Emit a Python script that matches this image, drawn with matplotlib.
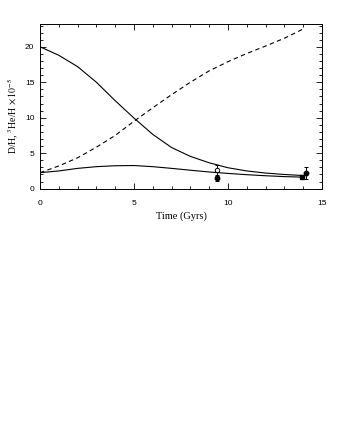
import matplotlib
matplotlib.use("Agg")
import matplotlib.pyplot as plt
from matplotlib.ticker import MultipleLocator

plt.rcParams["mathtext.fontset"] = "stix"

# Data (time in Gyr, abundances x 1e-5)
time = [0, 1, 2, 3, 4, 5, 6, 7, 8, 9, 10, 11, 12, 13, 14]
dh_model = [20.0, 18.8, 17.2, 15.0, 12.4, 9.95, 7.65, 5.8, 4.55, 3.65, 2.95,
            2.5, 2.2, 2.0, 1.85]
he3_model = [2.25, 3.2, 4.35, 5.85, 7.5, 9.5, 11.4, 13.25, 15.0, 16.6,
             17.9, 19.05, 20.1, 21.2, 22.5]
low_model = [2.25, 2.5, 2.86, 3.1, 3.23, 3.26, 3.1, 2.86, 2.6, 2.35, 2.15,
             1.97, 1.82, 1.7, 1.62]

# Observations
open_t, open_y, open_err = [9.4], [2.6], [0.7]
filled_t, filled_y, filled_err = [9.4, 14.17], [1.5, 2.2], [0.35, 0.8]
square_t, square_y = [13.95], [1.64]

fig = plt.figure(figsize=(3.45, 4.46), dpi=100)
ax = fig.add_axes([0.116, 0.577, 0.817, 0.369])

lw = 0.8
ax.plot(time, dh_model, color="black", lw=lw)
ax.plot(time, low_model, color="black", lw=lw)
ax.plot(time, he3_model, color="black", lw=lw, ls=(0, (4, 3)))

ax.errorbar(open_t, open_y, yerr=open_err, fmt="o", ms=3.2, mfc="white",
            mec="black", mew=0.7, ecolor="black", elinewidth=0.7,
            capsize=1.5, capthick=0.7)
ax.errorbar(filled_t, filled_y, yerr=filled_err, fmt="o", ms=3.2,
            color="black", elinewidth=0.7, capsize=1.5, capthick=0.7)
ax.plot(square_t, square_y, "s", color="black", ms=2.6)

ax.set_xlim(0, 15)
ax.set_ylim(0, 23.2)
ax.xaxis.set_major_locator(MultipleLocator(5))
ax.xaxis.set_minor_locator(MultipleLocator(1))
ax.yaxis.set_major_locator(MultipleLocator(5))
ax.yaxis.set_minor_locator(MultipleLocator(1))
ax.tick_params(which="both", direction="in", top=True, right=True,
               width=0.6, labelsize=6, colors="black")
ax.tick_params(which="major", length=4.3)
ax.tick_params(which="minor", length=2.4)
ax.tick_params(axis="x", pad=8)
ax.tick_params(axis="y", pad=4)
for lab in ax.get_xticklabels() + ax.get_yticklabels():
    lab.set_family("Liberation Sans")
for s in ax.spines.values():
    s.set_linewidth(0.7)

ax.set_xlabel("Time (Gyrs)", family="Liberation Serif", fontsize=7.5,
              labelpad=3)
ax.set_ylabel(r"D/H, $^{3}$He/H $\times\,10^{-5}$", family="Liberation Serif",
              fontsize=7, labelpad=5)
ax.yaxis.set_label_coords(-0.068, 0.44)

fig.savefig("out.png", dpi=100)
